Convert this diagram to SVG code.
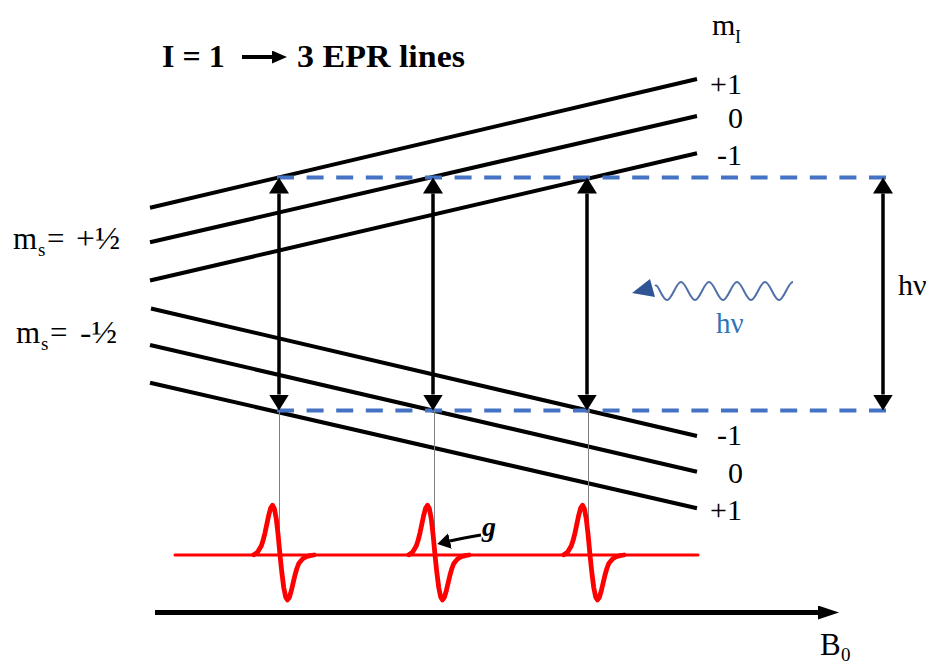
<svg xmlns="http://www.w3.org/2000/svg" width="935" height="664" viewBox="0 0 935 664">
<style>
  text { font-family: 'Liberation Serif', 'DejaVu Serif', 'Noto Serif', serif; fill: #000; }
  .lvl { stroke: #000; stroke-width: 4; fill: none; }
  .dash { stroke: #4472c4; stroke-width: 4; stroke-dasharray: 17 12.6; fill: none; }
  .varr { stroke: #000; stroke-width: 3.5; fill: none; marker-start: url(#ah); marker-end: url(#ah); }
  .guide { stroke: #7f7f7f; stroke-width: 1; fill: none; }
  .spec { stroke: #ff0000; fill: none; stroke-linejoin: round; stroke-linecap: round; }
</style>
<defs>
  <marker id="ah" markerUnits="userSpaceOnUse" markerWidth="17" markerHeight="20" refX="0" refY="10" orient="auto-start-reverse">
    <path d="M0,0 L16,10 L0,20 z" fill="#000"/>
  </marker>
  <marker id="axh" markerUnits="userSpaceOnUse" markerWidth="22" markerHeight="15" refX="0" refY="7" orient="auto">
    <path d="M0,0 L21,7 L0,14 z" fill="#000"/>
  </marker>
  <marker id="th" markerUnits="userSpaceOnUse" markerWidth="16" markerHeight="14" refX="0" refY="6.5" orient="auto">
    <path d="M0,0 L15,6.5 L0,13 z" fill="#000"/>
  </marker>
  <marker id="gh" markerUnits="userSpaceOnUse" markerWidth="14" markerHeight="16" refX="0" refY="8" orient="auto">
    <path d="M0,0 L13,8 L0,16 z" fill="#000"/>
  </marker>
  <path id="peak" d="M-26.25,-0.3 L-22.5,-2.7 L-18.75,-9 L-16.875,-14.7 L-15,-22.2 L-13.125,-31 L-11.25,-39.9 L-9.375,-46.9 L-7.5,-49.7 L-5.625,-46.4 L-3.75,-36.2 L-1.875,-19.9 L0,0 L1.875,17.9 L3.75,32.6 L5.625,41.9 L7.5,44.9 L9.375,42.3 L11.25,36 L13.125,28 L15,20 L16.875,13.5 L18.75,8.5 L22.5,4 L26.25,1.8 L30,0.6 L34,0"/>
</defs>

<g id="connectors">
  <line class="lvl" x1="150" y1="207.7" x2="697" y2="79"/>
  <line class="lvl" x1="150" y1="242.3" x2="697" y2="116"/>
  <line class="lvl" x1="150" y1="280.5" x2="697" y2="153.3"/>
  <line class="lvl" x1="151" y1="308.5" x2="697" y2="436"/>
  <line class="lvl" x1="150" y1="345" x2="697" y2="471.7"/>
  <line class="lvl" x1="150" y1="382.7" x2="697" y2="508.3"/>
  <line class="dash" x1="277" y1="177.5" x2="890" y2="177.5"/>
  <line class="dash" x1="277" y1="410.5" x2="890" y2="410.5"/>
  <line class="guide" x1="279.5" y1="410" x2="279.5" y2="556"/>
  <line class="guide" x1="434.5" y1="410" x2="434.5" y2="555"/>
  <line class="guide" x1="588.5" y1="410" x2="588.5" y2="555"/>
  <line class="varr" x1="279" y1="193.5" x2="279" y2="394.5"/>
  <line class="varr" x1="433" y1="193.5" x2="433" y2="394.5"/>
  <line class="varr" x1="587" y1="193.5" x2="587" y2="394.5"/>
  <line class="varr" x1="883" y1="193.5" x2="883" y2="394.5"/>
  <line x1="155" y1="612.5" x2="818" y2="612.5" stroke="#000" stroke-width="5" marker-end="url(#axh)"/>
  <path d="M481,535 Q463,538 450,541" stroke="#000" stroke-width="3" fill="none" marker-end="url(#gh)"/>
  <path d="M793,282 c-5,0 -9,18 -14,18 s-9,-18 -14,-18 s-9,18 -14,18 s-9,-18 -14,-18 s-9,18 -14,18 s-9,-18 -14,-18 s-9,18 -14,18 s-9,-18 -14,-18 s-9,18 -14,18 s-9,-18 -12,-14" stroke="#4f6fa8" stroke-width="2" fill="none"/>
  <polygon points="632,293 650,279 655,297" fill="#2f5597"/>
</g>

<g id="spectrum">
  <path class="spec" stroke-width="3" d="M175,555 L698,555"/>
  <use href="#peak" x="280" y="555" class="spec" stroke-width="4.8"/>
  <use href="#peak" x="435" y="555" class="spec" stroke-width="4.8"/>
  <use href="#peak" x="590" y="555" class="spec" stroke-width="4.8"/>
</g>

<g id="title">
  <text x="162" y="67" font-size="32" font-weight="bold">I = 1</text>
  <line x1="242" y1="57" x2="272" y2="57" stroke="#000" stroke-width="4" marker-end="url(#th)"/>
  <text x="297" y="67" font-size="32" font-weight="bold" textLength="168" lengthAdjust="spacingAndGlyphs">3 EPR lines</text>
</g>

<g id="label-mI">
  <text x="712" y="35" font-size="30">m</text>
  <text x="735" y="43" font-size="18">I</text>
</g>

<g id="labels-upper-mI">
  <text x="742" y="94" font-size="30" text-anchor="end">+1</text>
  <text x="743" y="128" font-size="30" text-anchor="end">0</text>
  <text x="742" y="165" font-size="30" text-anchor="end">-1</text>
</g>

<g id="labels-lower-mI">
  <text x="742" y="445" font-size="30" text-anchor="end">-1</text>
  <text x="743" y="483" font-size="30" text-anchor="end">0</text>
  <text x="742" y="520" font-size="30" text-anchor="end">+1</text>
</g>

<g id="label-ms-plus">
  <text x="13" y="249" font-size="31">m</text>
  <text x="38" y="256" font-size="19">s</text>
  <text x="47" y="249" font-size="31">=</text>
  <text x="76" y="249" font-size="31" textLength="44" lengthAdjust="spacingAndGlyphs">+½</text>
</g>

<g id="label-ms-minus">
  <text x="16" y="343" font-size="31">m</text>
  <text x="41" y="350" font-size="19">s</text>
  <text x="50" y="343" font-size="31">=</text>
  <text x="80" y="343" font-size="31" textLength="37" lengthAdjust="spacingAndGlyphs">-½</text>
</g>

<g id="label-hv-right">
  <text x="898" y="295" font-size="30">hν</text>
</g>

<g id="label-hv-photon">
  <text x="716" y="333" font-size="29" style="fill:#2e75b6">hν</text>
</g>

<g id="label-g">
  <text x="482" y="536" font-size="28" font-style="italic" font-weight="bold">g</text>
</g>

<g id="label-B0">
  <text x="820" y="655" font-size="31">B</text>
  <text x="841" y="661" font-size="19">0</text>
</g>
</svg>
